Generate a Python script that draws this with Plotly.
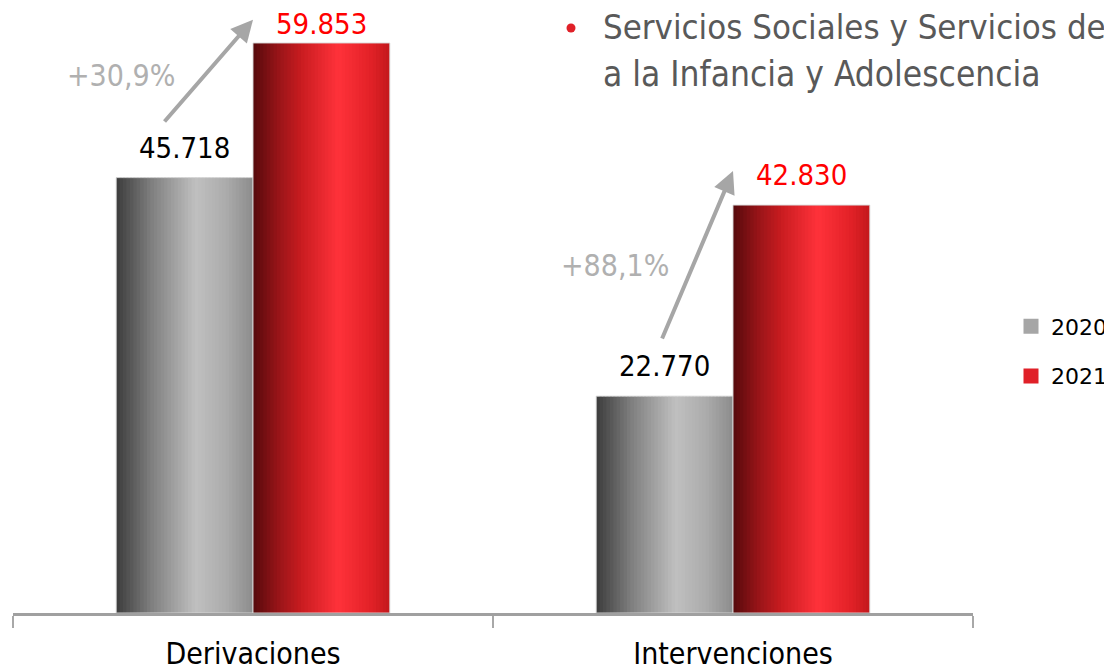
import plotly.graph_objects as go

categorias = ["Derivaciones", "Intervenciones"]
anios = ["2020", "2021"]
valores_2020 = [45718, 22770]
valores_2021 = [59853, 42830]

titulo_1 = "Servicios Sociales y Servicios de"
titulo_2 = "a la Infancia y Adolescencia"

# gradientes tipo "cilindro" (posicion 0-1, color)
grad_gris = [(0.0, (60, 60, 60)), (0.25, (125, 125, 125)), (0.58, (192, 192, 192)),
             (0.8, (172, 172, 172)), (1.0, (140, 140, 140))]
grad_rojo = [(0.0, (85, 10, 12)), (0.18, (150, 20, 24)), (0.35, (200, 28, 32)),
             (0.62, (255, 50, 58)), (0.85, (228, 34, 40)), (1.0, (195, 24, 28))]


def color_en(grad, t):
    for (t0, c0), (t1, c1) in zip(grad, grad[1:]):
        if t0 <= t <= t1:
            f = (t - t0) / (t1 - t0)
            c = [round(a + (b - a) * f) for a, b in zip(c0, c1)]
            return "rgb(%d,%d,%d)" % tuple(c)
    return "rgb(%d,%d,%d)" % grad[-1][1]


# la pagina tiene 8px de margen: el grafico ocupa 1104x661 de la ventana
W, H = 1104, 661
L, R, T, B = 5, 139, 0, 56
PW, PH = W - L - R, H - T - B


def px(x):  # x de pantalla -> paper
    return (x - 8 - L) / PW


def py(y):  # y de pantalla -> paper
    return (H - B - (y - 8)) / PH


ANCHO = 0.285
N = 40
fig = go.Figure()

for valores, grad, off0 in [(valores_2020, grad_gris, -ANCHO), (valores_2021, grad_rojo, 0.0)]:
    paso = ANCHO / N
    for k in range(N):
        fig.add_trace(go.Bar(
            x=categorias, y=valores,
            offset=off0 + k * paso, width=paso * 1.6 if k < N - 1 else paso,
            marker=dict(color=color_en(grad, (k + 0.5) / N), line=dict(width=0)),
            showlegend=False, hoverinfo="skip",
        ))
    # contorno claro
    fig.add_trace(go.Bar(
        x=categorias, y=valores, offset=off0, width=ANCHO,
        marker=dict(color="rgba(0,0,0,0)", line=dict(color="rgba(215,215,215,0.9)", width=1)),
        showlegend=False, hoverinfo="skip",
    ))

# leyenda
for nombre, col in zip(anios, ["#a6a6a6", "#e02028"]):
    fig.add_trace(go.Scatter(x=[None], y=[None], name=nombre, mode="markers",
                             marker=dict(symbol="square", size=15, color=col),
                             legendgroup=nombre))

# etiquetas de valores
fuente_val = "DejaVu Sans Condensed"
for i, cat in enumerate(categorias):
    fig.add_annotation(x=i - ANCHO / 2, y=valores_2020[i], xref="x", yref="y",
                       text=f"{valores_2020[i]:,}".replace(",", "."), showarrow=False,
                       yanchor="bottom", yshift=11,
                       font=dict(family=fuente_val, size=29, color="black"))
    fig.add_annotation(x=i + ANCHO / 2, y=valores_2021[i], xref="x", yref="y",
                       text=f"{valores_2021[i]:,}".replace(",", "."), showarrow=False,
                       yanchor="bottom", yshift=11 if i == 1 else 0,
                       font=dict(family=fuente_val, size=29, color="#ff0000"))

# flechas de variacion
flechas = [  # (x cola, y cola, x punta, y punta, x texto, y texto)
    (-0.187, 51450, 0.0, 62300, -0.276, 56400),
    (0.851, 28670, 1.0, 46400, 0.755, 36440),
]
for i, (xa, ya, xh, yh, xt, yt) in enumerate(flechas):
    pct = (valores_2021[i] / valores_2020[i] - 1) * 100
    fig.add_annotation(x=xh, y=yh, ax=xa, ay=ya, xref="x", yref="y", axref="x", ayref="y",
                       text="", showarrow=True, arrowhead=2, arrowsize=1.1, arrowwidth=4,
                       arrowcolor="#a6a6a6", standoff=0)
    fig.add_annotation(x=xt, y=yt, xref="x", yref="y", showarrow=False,
                       text=("+%.1f%%" % pct).replace(".", ","),
                       font=dict(family=fuente_val, size=30, color="#b0b0b0"))

# titulo con vineta
fig.add_shape(type="circle", xref="paper", yref="paper",
              x0=px(566.5), x1=px(575.5), y0=py(32.5), y1=py(23.5),
              fillcolor="#e02028", line=dict(width=0))
fig.add_annotation(x=px(601), y=py(49), xref="paper", yref="paper",
                   text=titulo_1, showarrow=False, xanchor="left", yanchor="bottom",
                   font=dict(family="DejaVu Sans Condensed", size=34.5, color="#595959"))
fig.add_annotation(x=px(601), y=py(96), xref="paper", yref="paper",
                   text=titulo_2, showarrow=False, xanchor="left", yanchor="bottom",
                   font=dict(family="DejaVu Sans Condensed", size=35, color="#595959"))

fig.update_layout(
    width=W, height=H,
    margin=dict(l=L, r=R, t=T, b=B, autoexpand=False),
    barmode="overlay",
    plot_bgcolor="white", paper_bgcolor="white",
    showlegend=True,
    legend=dict(x=px(1011), y=py(351.5), xanchor="left", yanchor="middle", tracegroupgap=18,
                itemwidth=30, font=dict(family="DejaVu Sans", size=22, color="black")),
    xaxis=dict(showline=True, linecolor="#a0a0a0", linewidth=2.5, ticks="outside",
               tickson="boundaries", ticklen=12, tickcolor="#a8a8a8", tickwidth=1.5,
               ticklabelstandoff=12, showgrid=False,
               tickfont=dict(family="DejaVu Sans Condensed", size=30, color="black")),
    yaxis=dict(range=[0, PH / (570 / 59853)], visible=False, showgrid=False),
)

fig.write_html("out.html")
